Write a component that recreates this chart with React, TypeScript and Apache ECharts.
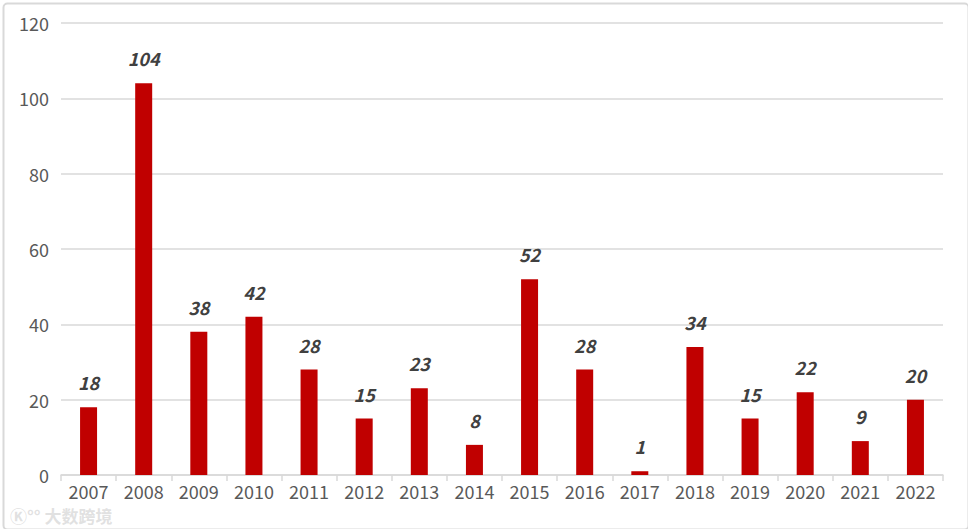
import React, { useEffect, useRef } from "react";
import * as echarts from "echarts";

const years = ["2007","2008","2009","2010","2011","2012","2013","2014","2015","2016","2017","2018","2019","2020","2021","2022"];
const counts = [18,104,38,42,28,15,23,8,52,28,1,34,15,22,9,20];
const yTicks = { min: 0, max: 120, interval: 20 };

const FONT = "'Noto Sans CJK SC', 'Noto Sans', sans-serif";

export default function App() {
  const ref = useRef<HTMLDivElement>(null);
  useEffect(() => {
    if (!ref.current) return;
    const chart = echarts.init(ref.current, undefined, { renderer: "svg" });
    chart.setOption({
      animation: false,
      backgroundColor: "#ffffff",
      grid: { left: 61, right: 25, top: 23, bottom: 54, containLabel: false },
      xAxis: {
        type: "category",
        data: years,
        axisLine: { show: true, lineStyle: { color: "#d9d9d9", width: 1.5 } },
        axisTick: { show: true, length: 6, lineStyle: { color: "#d9d9d9", width: 1.5 } },
        axisLabel: { color: "#595959", fontSize: 18, fontFamily: FONT, margin: 7 },
      },
      yAxis: {
        type: "value",
        min: yTicks.min,
        max: yTicks.max,
        interval: yTicks.interval,
        axisLine: { show: false },
        axisTick: { show: false },
        axisLabel: { color: "#595959", fontSize: 18, fontFamily: FONT, margin: 12 },
        splitLine: { lineStyle: { color: "#d9d9d9", width: 1.5 } },
      },
      series: [
        {
          type: "bar",
          data: counts,
          barWidth: 17,
          itemStyle: { color: "#c00000" },
          label: {
            show: true,
            position: "top",
            distance: 16,
            color: "#404040",
            fontSize: 18,
            fontWeight: 600,
            fontStyle: "italic",
            fontFamily: FONT,
          },
        },
      ],
      graphic: [
        {
          type: "rect",
          left: 1,
          top: 1,
          shape: { width: 965, height: 526, r: 4 },
          style: { fill: "none", stroke: "#d9d9d9", lineWidth: 2 },
          silent: true,
          z: 100,
        },
        {
          type: "text",
          left: 10,
          top: 507,
          style: { text: "\u24C0\u00B0\u00B0 大数跨境", fill: "rgba(200,200,200,0.55)", fontSize: 17, fontWeight: "bold", fontFamily: FONT },
          silent: true,
          z: 100,
        },
      ],
    });
    return () => chart.dispose();
  }, []);
  return <div ref={ref} style={{ position: "fixed", left: 0, top: 0, width: 968, height: 529 }} />;
}
